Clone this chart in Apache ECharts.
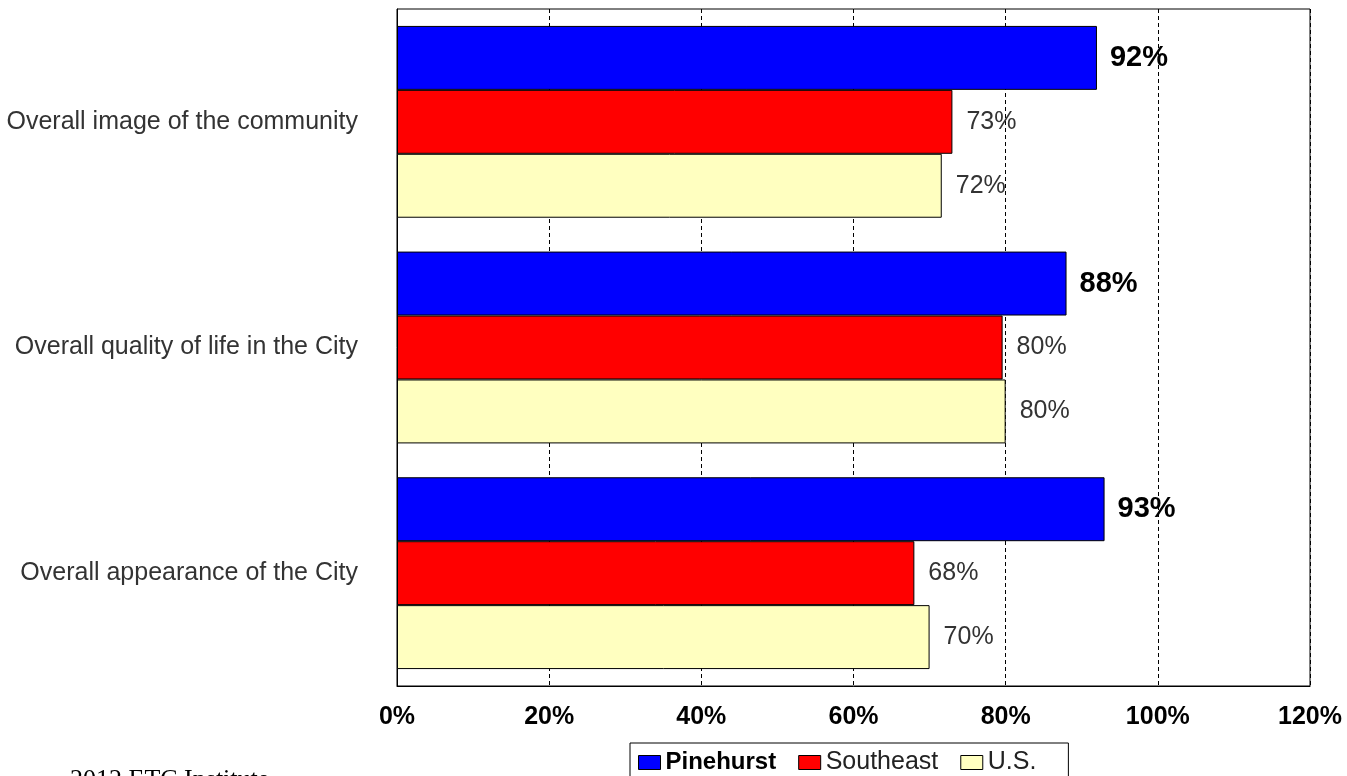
<!DOCTYPE html>
<html><head><meta charset="utf-8">
<script src="https://cdn.jsdelivr.net/npm/echarts@6/dist/echarts.min.js"></script>
<style>html,body{margin:0;padding:0;background:#fff}#c{width:1347px;height:776px}</style>
</head><body><div id="c"></div>
<script>
var categories = ["Overall image of the community", "Overall quality of life in the City", "Overall appearance of the City"];
var seriesNames = ["Pinehurst", "Southeast", "U.S."];
var pinehurst = [92, 88, 93];
var southeast = [73, 79.6, 68];
var us = [71.6, 80, 70];
var labelPinehurst = ["92%", "88%", "93%"];
var labelSoutheast = ["73%", "80%", "68%"];
var labelUS = ["72%", "80%", "70%"];
var xTicks = [0, 20, 40, 60, 80, 100, 120];
var footnote = "2012 ETC Institute";

var colors = ["#0000ff", "#ff0000", "#ffffc0"];
var FONT = 'Liberation Sans, Arial, sans-serif';
function mk(name, data, labels, color, bold) {
  return {
    name: name, type: 'bar', data: data, barGap: '0%', barCategoryGap: '15%',
    itemStyle: {color: color, borderColor: '#000', borderWidth: 1},
    label: {show: true, position: 'right', distance: bold ? 13 : 14,
      formatter: function (p) { return labels[p.dataIndex]; },
      fontFamily: FONT, fontSize: bold ? 29 : 25,
      fontWeight: bold ? 'bold' : 'normal', color: bold ? '#000' : '#333'}
  };
}
var chart = echarts.init(document.getElementById('c'));
chart.setOption({
  animation: false,
  grid: {left: 397, right: 37, top: 9, bottom: 90, show: true, borderColor: '#000', borderWidth: 1, backgroundColor: '#fff'},
  legend: {
    data: seriesNames, left: 630, top: 743, itemWidth: 22, itemHeight: 14, itemGap: 22, icon: 'rect',
    borderColor: '#000', borderWidth: 1, padding: [7, 32, 8, 8], backgroundColor: '#fff',
    textStyle: {fontFamily: FONT, fontSize: 25, color: '#222',
      rich: {b: {fontFamily: FONT, fontSize: 24, fontWeight: 'bold', color: '#000'}}},
    formatter: function (n) { return n === 'Pinehurst' ? '{b|' + n + '}' : n; },
    itemStyle: {borderColor: '#000', borderWidth: 1}
  },
  xAxis: {
    type: 'value', min: xTicks[0], max: xTicks[xTicks.length - 1], interval: 20,
    axisLine: {show: true, lineStyle: {color: '#000'}}, axisTick: {show: false},
    axisLabel: {formatter: '{value}%', fontFamily: FONT, fontSize: 25, fontWeight: 'bold', color: '#000', margin: 19},
    splitLine: {show: true, lineStyle: {color: '#000', type: [4, 3], width: 1}}
  },
  yAxis: {
    type: 'category', data: categories, inverse: true,
    axisLine: {show: true, lineStyle: {color: '#000'}}, axisTick: {show: false},
    axisLabel: {fontFamily: FONT, fontSize: 25, color: '#333', margin: 39}
  },
  graphic: [{type: 'text', left: 70, top: 767, style: {text: footnote, font: '26px "Liberation Serif", serif', fill: '#000'}}],
  series: [
    mk(seriesNames[0], pinehurst, labelPinehurst, colors[0], true),
    mk(seriesNames[1], southeast, labelSoutheast, colors[1], false),
    mk(seriesNames[2], us, labelUS, colors[2], false)
  ]
});
</script></body></html>
